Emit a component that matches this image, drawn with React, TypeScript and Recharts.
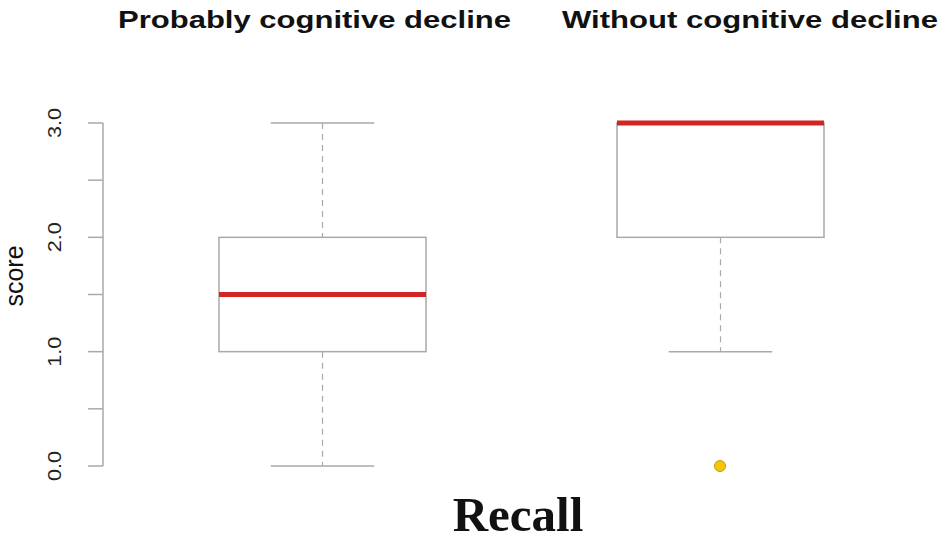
import React from "react";
import { ComposedChart, Bar, Scatter, XAxis, YAxis } from "recharts";

const categories = ["Probably cognitive decline", "Without cognitive decline"];
const whiskerLow = [0, 1];
const q1 = [1, 2];
const median = [1.5, 3];
const q3 = [2, 3];
const whiskerHigh = [3, 3];
const outlierGroups = ["Without cognitive decline"];
const outlierValues = [0];
const yTicks = [0, 0.5, 1, 1.5, 2, 2.5, 3];
const yTickLabels: Record<string, string> = { "0": "0.0", "1": "1.0", "2": "2.0", "3": "3.0" };

const data = categories.map((name, i) => ({
  name,
  range: [whiskerLow[i], whiskerHigh[i]],
  lo: whiskerLow[i],
  q1: q1[i],
  med: median[i],
  q3: q3[i],
  hi: whiskerHigh[i],
}));

const outliers = outlierGroups.map((name, i) => ({ name, value: outlierValues[i] }));

const GRAY = "#a9a9a9";
const RED = "#d42424";

const BoxShape = (props: any) => {
  const { x, y, width, height, payload } = props;
  const top = Math.min(y, y + height);
  const h = Math.abs(height);
  const span = payload.hi - payload.lo;
  const px = span > 0 ? h / span : 0;
  const yOf = (v: number) => top + (payload.hi - v) * px;
  const cx = x + width / 2;
  const capHalf = width / 4;
  return (
    <g>
      <line x1={cx} x2={cx} y1={yOf(payload.hi)} y2={yOf(payload.q3)} stroke={GRAY} strokeWidth={1.2} strokeDasharray="6 5" />
      <line x1={cx} x2={cx} y1={yOf(payload.q1)} y2={yOf(payload.lo)} stroke={GRAY} strokeWidth={1.2} strokeDasharray="6 5" />
      <line x1={cx - capHalf} x2={cx + capHalf} y1={yOf(payload.hi)} y2={yOf(payload.hi)} stroke={GRAY} strokeWidth={1.5} />
      <line x1={cx - capHalf} x2={cx + capHalf} y1={yOf(payload.lo)} y2={yOf(payload.lo)} stroke={GRAY} strokeWidth={1.5} />
      <rect x={x} y={yOf(payload.q3)} width={width} height={yOf(payload.q1) - yOf(payload.q3)} fill="#ffffff" stroke={GRAY} strokeWidth={1.5} />
      <line x1={x} x2={x + width} y1={yOf(payload.med)} y2={yOf(payload.med)} stroke={RED} strokeWidth={5} />
    </g>
  );
};

const OutlierShape = (props: any) => {
  const { cx, cy } = props;
  return <circle cx={cx} cy={cy} r={5.5} fill="#f7c600" stroke="#b89a20" strokeWidth={1} />;
};

const YTick = (props: any) => {
  const { x, y, payload } = props;
  const label = yTickLabels[String(payload.value)];
  if (!label) return <g />;
  const bx = x - 25;
  return (
    <text
      x={bx}
      y={y}
      transform={`rotate(-90, ${bx}, ${y})`}
      textAnchor="middle"
      fontFamily="Liberation Sans, Arial, sans-serif"
      fontSize={19}
      fill="#222"
      textLength={30}
      lengthAdjust="spacingAndGlyphs"
    >
      {label}
    </text>
  );
};

export default function App() {
  return (
    <div style={{ position: "absolute", left: 0, top: 0, width: 948, height: 538, background: "#fff" }}>
      <ComposedChart
        width={948}
        height={538}
        data={data}
        margin={{ top: 123, right: 9, bottom: 72, left: 0 }}
      >
        <XAxis dataKey="name" type="category" hide allowDuplicatedCategory={false} padding={{ left: 20, right: 20 }} />
        <YAxis
          type="number"
          domain={[0, 3]}
          ticks={yTicks}
          width={103}
          tickSize={15}
          axisLine={{ stroke: GRAY, strokeWidth: 1.5 }}
          tickLine={{ stroke: GRAY, strokeWidth: 1.5 }}
          tick={<YTick />}
          interval={0}
        />
        <Bar dataKey="range" barSize={207} shape={<BoxShape />} isAnimationActive={false} />
        <Scatter data={outliers} dataKey="value" shape={<OutlierShape />} isAnimationActive={false} />
        <text x={118} y={28} fontFamily="Liberation Sans, Arial, sans-serif" fontWeight="bold" fontSize={23} fill="#111" textLength={393} lengthAdjust="spacingAndGlyphs">
          {categories[0]}
        </text>
        <text x={562} y={28} fontFamily="Liberation Sans, Arial, sans-serif" fontWeight="bold" fontSize={23} fill="#111" textLength={376} lengthAdjust="spacingAndGlyphs">
          {categories[1]}
        </text>
        <text x={23} y={276} transform="rotate(-90, 23, 276)" textAnchor="middle" fontFamily="Liberation Sans, Arial, sans-serif" fontSize={25} fill="#111">
          score
        </text>
        <text x={518} y={531} textAnchor="middle" fontFamily="Liberation Serif, Times New Roman, serif" fontWeight="bold" fontSize={49} fill="#111">
          Recall
        </text>
      </ComposedChart>
    </div>
  );
}
